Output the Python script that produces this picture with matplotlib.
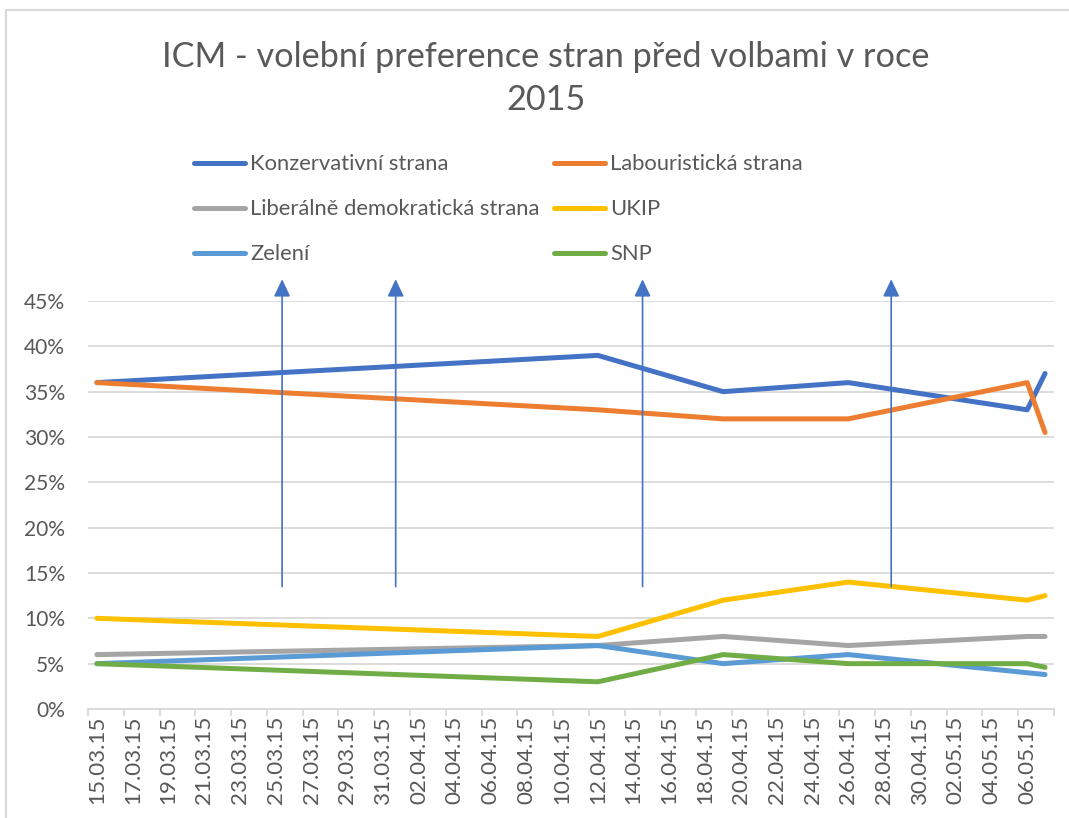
import matplotlib
matplotlib.use('Agg')
import matplotlib.pyplot as plt
import matplotlib.dates as mdates
from matplotlib.lines import Line2D
from matplotlib.patches import Rectangle
from matplotlib.ticker import FixedLocator, FuncFormatter, NullFormatter
import pandas as pd

plt.rcParams['font.family'] = ['Lato', 'DejaVu Sans']

# ---------------- data ----------------
title_line1 = "ICM - volební preference stran před volbami v roce"
title_line2 = "2015"
poll_dates = ['2015-03-15', '2015-04-12', '2015-04-19', '2015-04-26', '2015-05-06', '2015-05-07']
series_names = ["Konzervativní strana", "Labouristická strana",
                "Liberálně demokratická strana", "UKIP", "Zelení", "SNP"]
konzervativni = [36, 39, 35, 36, 33, 37]
labouristicka = [36, 33, 32, 32, 36, 30.5]
liberalni_dem = [6, 7, 8, 7, 8, 8]
ukip = [10, 8, 12, 14, 12, 12.5]
zeleni = [5, 7, 5, 6, 4, 3.8]
snp = [5, 3, 6, 5, 5, 4.6]
series_colors = ['#4472C4', '#ED7D31', '#A5A5A5', '#FFC000', '#5B9BD5', '#70AD47']
axis_start = '2015-03-15'
axis_end = '2015-05-07'
y_ticks = [0, 5, 10, 15, 20, 25, 30, 35, 40, 45]
# annotation arrows (days after axis start, bottom %, top %)
arrow_days = [10.35, 16.7, 30.5, 44.4]
arrow_bottom = 13.5
arrow_top = 47.4

# ---------------- figure ----------------
W, H = 1069, 818
fig = plt.figure(figsize=(W / 100, H / 100), dpi=100)
fig.patch.set_facecolor('white')
ax = fig.add_axes([88 / W, (H - 709) / H, (1054 - 88) / W, (709 - 301) / H])

text_color = '#595959'
grid_color = '#D9D9D9'
line_w = 3.6

dates = pd.to_datetime(poll_dates)
series_values = [konzervativni, labouristicka, liberalni_dem, ukip, zeleni, snp]
lines = []
for name, vals, col in zip(series_names, series_values, series_colors):
    ln, = ax.plot(dates, vals, color=col, lw=line_w, solid_capstyle='round',
                  solid_joinstyle='round', clip_on=False, zorder=3, label=name)
    lines.append(ln)

start_num = mdates.date2num(pd.Timestamp(axis_start))
end_num = mdates.date2num(pd.Timestamp(axis_end))
ax.set_xlim(start_num - 0.5, end_num + 0.5)
ax.set_ylim(0, 45)

# y axis
ax.set_yticks(y_ticks)
ax.yaxis.set_major_formatter(FuncFormatter(lambda v, p: f"{int(v)}%"))
ax.yaxis.grid(True, color=grid_color, lw=1.3)
ax.set_axisbelow(True)
for s in ['top', 'right', 'left']:
    ax.spines[s].set_visible(False)
ax.spines['bottom'].set_color(grid_color)
ax.spines['bottom'].set_linewidth(1.3)

# x axis: major ticks at day-band boundaries, labels at band centres
n_days = int(round(end_num - start_num)) + 1
boundaries = [start_num - 0.5 + 2 * k for k in range(n_days // 2 + 1)]
centers = [start_num + 2 * k for k in range(n_days // 2)]
ax.xaxis.set_major_locator(FixedLocator(boundaries))
ax.xaxis.set_major_formatter(NullFormatter())
ax.xaxis.set_minor_locator(FixedLocator(centers))
ax.xaxis.set_minor_formatter(FuncFormatter(lambda v, p: mdates.num2date(v).strftime('%d.%m.%y')))

# ---------------- font size fitting ----------------
fig.canvas.draw()
renderer = fig.canvas.get_renderer()


def fit_size(s, target_px, base=12):
    t = fig.text(0, 0, s, fontsize=base)
    w = t.get_window_extent(renderer).width
    t.remove()
    return base * target_px / w


xt_size = fit_size('15.03.15', 88)
yt_size = fit_size('45%', 41)
leg_size = fit_size('Konzervativní strana', 198)
title_size = fit_size(title_line1, 765)

ax.tick_params(axis='y', which='both', length=0, pad=16.5, labelsize=yt_size, labelcolor=text_color)
ax.tick_params(axis='x', which='major', length=5, width=1.3, color=grid_color, direction='out')
ax.tick_params(axis='x', which='minor', length=0, pad=5, labelsize=xt_size,
               labelcolor=text_color, labelrotation=90)

# arrows
for d in arrow_days:
    xv = start_num + d
    ax.annotate('', xy=(xv, arrow_top), xytext=(xv, arrow_bottom),
                arrowprops=dict(arrowstyle='-|>,head_length=1.05,head_width=0.5',
                                color='#4472C4', lw=1.2, shrinkA=0, shrinkB=0,
                                mutation_scale=10),
                annotation_clip=False, zorder=5)

# title
fig.text(545.5 / W, 1 - 57 / H, title_line1, ha='center', va='center',
         fontsize=title_size, color=text_color)
fig.text(545.5 / W, 1 - 100 / H, title_line2, ha='center', va='center',
         fontsize=title_size, color=text_color)

# legend (two columns, three rows)
leg_x = [192, 552]
leg_y = [163, 208, 253]
for i, ln in enumerate(lines):
    r, c = divmod(i, 2)
    x0 = leg_x[c]
    y = leg_y[r]
    fig.add_artist(Line2D([(x0 + 2) / W, (x0 + 53) / W], [1 - y / H, 1 - y / H],
                          transform=fig.transFigure, color=ln.get_color(), lw=line_w,
                          solid_capstyle='round'))
    fig.text((x0 + 58) / W, 1 - (y + 1) / H, ln.get_label(), ha='left', va='center',
             fontsize=leg_size, color=text_color)

# chart border
fig.add_artist(Rectangle((6 / W, -0.05), 1.1, (1 - 10 / H) + 0.05, transform=fig.transFigure,
                         fill=False, ec=grid_color, lw=1.5, clip_on=False))

fig.savefig('out.png', dpi=100)
